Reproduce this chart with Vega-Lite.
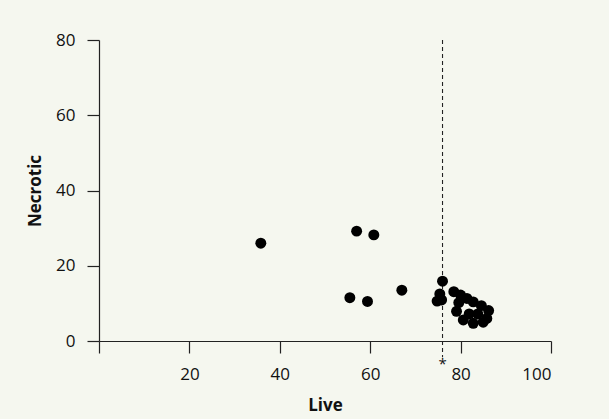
{
  "$schema": "https://vega.github.io/schema/vega-lite/v6.json",
  "width": 452,
  "height": 301,
  "autosize": "none",
  "padding": {"left": 99, "top": 40, "right": 58, "bottom": 78},
  "background": "#f5f7ef",
  "config": {
    "view": {"stroke": null},
    "font": "Open Sans",
    "axis": {
      "grid": false,
      "domainColor": "#222222",
      "domainWidth": 1.2,
      "tickColor": "#222222",
      "tickWidth": 1.2,
      "tickSize": 12,
      "labelFont": "Open Sans",
      "labelFontSize": 17,
      "labelColor": "#111111",
      "titleFont": "Open Sans",
      "titleFontSize": 17,
      "titleFontWeight": "bold",
      "titleColor": "#111111"
    }
  },
  "datasets": {
    "cells": [
      {"Live": 35.8, "Necrotic": 26.0},
      {"Live": 57.0, "Necrotic": 29.2},
      {"Live": 60.8, "Necrotic": 28.2},
      {"Live": 55.5, "Necrotic": 11.5},
      {"Live": 59.4, "Necrotic": 10.5},
      {"Live": 67.0, "Necrotic": 13.5},
      {"Live": 76.0, "Necrotic": 15.9},
      {"Live": 75.4, "Necrotic": 12.5},
      {"Live": 74.8, "Necrotic": 10.6},
      {"Live": 75.8, "Necrotic": 10.9},
      {"Live": 78.5, "Necrotic": 13.1},
      {"Live": 80.0, "Necrotic": 12.2},
      {"Live": 81.4, "Necrotic": 11.3},
      {"Live": 82.8, "Necrotic": 10.4},
      {"Live": 84.6, "Necrotic": 9.4},
      {"Live": 86.2, "Necrotic": 8.1},
      {"Live": 79.6, "Necrotic": 10.2},
      {"Live": 79.1, "Necrotic": 7.9},
      {"Live": 80.6, "Necrotic": 5.6},
      {"Live": 81.9, "Necrotic": 7.2},
      {"Live": 82.8, "Necrotic": 4.7},
      {"Live": 83.8, "Necrotic": 7.2},
      {"Live": 85.0, "Necrotic": 5.0},
      {"Live": 85.8, "Necrotic": 6.0}
    ],
    "threshold": [
      {"Live": 76, "top": 80, "bottom": -4.3, "markLabel": "*", "labelY": -6.2}
    ]
  },
  "layer": [
    {
      "data": {"name": "threshold"},
      "mark": {"type": "rule", "color": "#222222", "strokeWidth": 1.1, "strokeDash": [4, 3]},
      "encoding": {
        "x": {"field": "Live", "type": "quantitative"},
        "y": {"field": "top", "type": "quantitative"},
        "y2": {"field": "bottom"}
      }
    },
    {
      "data": {"name": "threshold"},
      "mark": {"type": "text", "font": "Open Sans", "fontSize": 15, "color": "#111111", "baseline": "middle", "align": "center"},
      "encoding": {
        "x": {"field": "Live", "type": "quantitative"},
        "y": {"field": "labelY", "type": "quantitative"},
        "text": {"field": "markLabel"}
      }
    },
    {
      "data": {"name": "cells"},
      "mark": {"type": "circle", "color": "#000000", "opacity": 1, "size": 120},
      "encoding": {
        "x": {
          "field": "Live",
          "type": "quantitative",
          "scale": {"domain": [0, 100], "nice": false, "zero": false},
          "axis": {
            "title": "Live",
            "values": [0, 20, 40, 60, 80, 100],
            "labelExpr": "datum.value == 0 ? '' : datum.label",
            "labelPadding": 13,
            "titlePadding": 15
          }
        },
        "y": {
          "field": "Necrotic",
          "type": "quantitative",
          "scale": {"domain": [0, 80], "nice": false, "zero": false},
          "axis": {
            "title": "Necrotic",
            "values": [0, 20, 40, 60, 80],
            "labelPadding": 12,
            "titlePadding": 11
          }
        }
      }
    }
  ]
}
